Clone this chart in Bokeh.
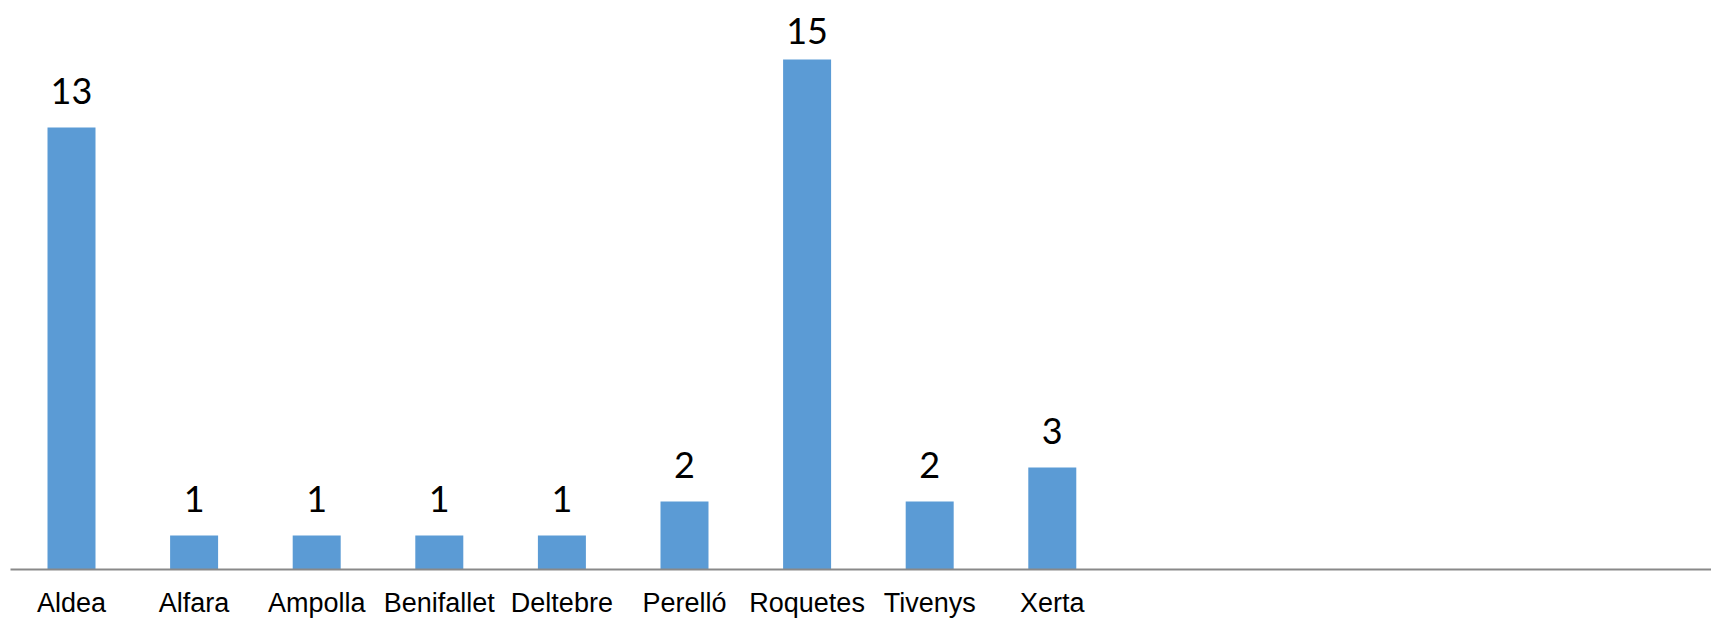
from bokeh.plotting import figure
from bokeh.models import ColumnDataSource, FixedTicker, Range1d
from bokeh.core.properties import value
from bokeh.embed import file_html
from bokeh.resources import INLINE

categories = ["Aldea", "Alfara", "Ampolla", "Benifallet", "Deltebre",
              "Perelló", "Roquetes", "Tivenys", "Xerta"]
counts = [13, 1, 1, 1, 1, 2, 15, 2, 3]

W, H = 1711, 620
FRAME_H = 569
PPU = 34.0
Y_END = FRAME_H / PPU
GAP_PX = 37
TOP_PX = 30

xs = list(range(len(categories)))
label_y = [min(v + GAP_PX / PPU, Y_END - TOP_PX / PPU) for v in counts]
src = ColumnDataSource(dict(x=xs, top=counts, ly=label_y,
                            txt=[str(v) for v in counts]))

p = figure(width=W, height=H, output_backend="svg", toolbar_location=None,
           x_range=Range1d(-0.4976, 13.377), y_range=Range1d(0, Y_END),
           min_border_left=10, min_border_right=0, min_border_top=0,
           min_border_bottom=H - FRAME_H)
p.outline_line_color = None
p.background_fill_color = "white"
p.border_fill_color = "white"
p.grid.visible = False
p.yaxis.visible = False

p.vbar(x="x", top="top", width=0.3915, bottom=0, source=src,
       fill_color="#5B9BD5", line_color=None)

p.text(x="x", y="ly", text="txt", source=src, text_align="center",
       text_baseline="alphabetic", text_font=value("Lato"),
       text_font_size="36px", text_color="#000000")

ax = p.xaxis[0]
ax.ticker = FixedTicker(ticks=xs)
ax.major_label_overrides = {i: c for i, c in zip(xs, categories)}
ax.major_tick_line_color = None
ax.minor_tick_line_color = None
ax.major_tick_out = 0
ax.major_tick_in = 0
ax.axis_line_color = "#898989"
ax.axis_line_width = 2
ax.major_label_standoff = 18
ax.major_label_text_font = "Liberation Sans"
ax.major_label_text_font_size = "27px"
ax.major_label_text_color = "#000000"

open("out.html", "w").write(file_html(p, INLINE))
